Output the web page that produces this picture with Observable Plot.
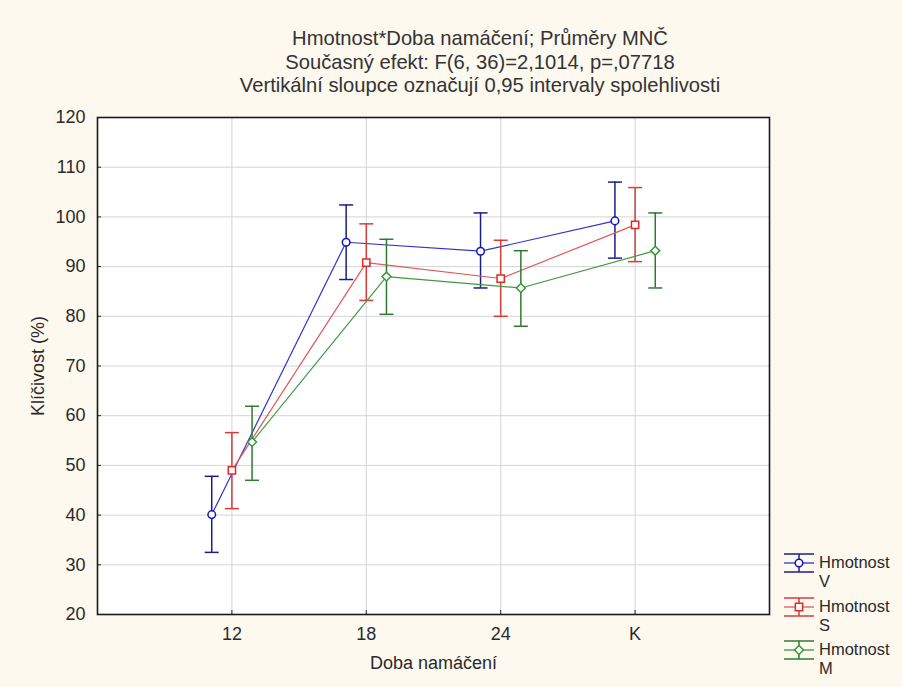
<!DOCTYPE html>
<html>
<head>
<meta charset="utf-8">
<script src="https://cdn.jsdelivr.net/npm/d3@7"></script>
<script src="https://cdn.jsdelivr.net/npm/@observablehq/plot@0.6"></script>
<style>
  html, body { margin: 0; padding: 0; background: #fdf9ef; }
  body { width: 902px; height: 687px; overflow: hidden; position: relative;
         font-family: "Liberation Sans", Arial, sans-serif; color: #2a2a2a; }
  #title { position: absolute; left: 0; top: 27px; width: 960px; text-align: center;
           font-size: 20.2px; line-height: 23.5px; color: #333; }
  #chart { position: absolute; left: 0; top: 0; }
  #legend { position: absolute; left: 783px; top: 553px; font-size: 16.5px; line-height: 19px; white-space: nowrap; }
  .item { display: flex; align-items: flex-start; height: 43.5px; }
  .item svg { flex: none; margin-right: 4px; margin-top: -1px; }
</style>
</head>
<body>
<div id="title">
  <div>Hmotnost*Doba namáčení; Průměry MNČ</div>
  <div>Současný efekt: F(6, 36)=2,1014, p=,07718</div>
  <div>Vertikální sloupce označují 0,95 intervaly spolehlivosti</div>
</div>
<div id="chart"></div>
<div id="legend"></div>
<script>
// ---- data ----
const categories = ["12", "18", "24", "K"];
const seriesNames = ["V", "S", "M"];
const seriesLabels = ["Hmotnost\nV", "Hmotnost\nS", "Hmotnost\nM"];
const meanV = [40.1, 94.9, 93.1, 99.2];
const lowV  = [32.5, 87.4, 85.7, 91.7];
const highV = [47.8, 102.4, 100.8, 107.0];
const meanS = [49.0, 90.8, 87.6, 98.4];
const lowS  = [41.3, 83.2, 80.0, 91.0];
const highS = [56.6, 98.6, 95.3, 105.9];
const meanM = [54.7, 88.0, 85.7, 93.2];
const lowM  = [47.0, 80.4, 78.0, 85.7];
const highM = [61.9, 95.5, 93.2, 100.8];
const yTicks = [20, 30, 40, 50, 60, 70, 80, 90, 100, 110, 120];

// ---- styling ----
const lineColors = ["#3434cc", "#e05858", "#3f9a3f"];
const barColors  = ["#1c1c8c", "#d63c3c", "#2f7a2f"];
const markColors = ["#1414c4", "#e02828", "#389638"];
const symbols = ["circle", "square", "diamond2"];
const radii = [3.8, 4.1, 4.0];
const dodge = [-0.15, 0, 0.15];

const means = [meanV, meanS, meanM];
const lows = [lowV, lowS, lowM];
const highs = [highV, highS, highM];

const rows = [];
seriesNames.forEach((s, si) => {
  categories.forEach((c, ci) => {
    rows.push({series: s, si, x: ci + 1 + dodge[si], mean: means[si][ci], low: lows[si][ci], high: highs[si][ci]});
  });
});

const capSymbol = {
  draw(ctx, size) { const r = Math.sqrt(size / Math.PI); ctx.moveTo(-r, 0); ctx.lineTo(r, 0); }
};

const marks = [
  Plot.frame({fill: "white", stroke: "none"}),
  Plot.gridY(yTicks, {stroke: "#d4d4d4", strokeOpacity: 1, strokeWidth: 1}),
  Plot.gridX([1, 2, 3, 4], {stroke: "#d4d4d4", strokeOpacity: 1, strokeWidth: 1}),
];
seriesNames.forEach((s, si) => {
  const d = rows.filter(r => r.series === s);
  marks.push(
    Plot.line(d, {x: "x", y: "mean", stroke: lineColors[si], strokeWidth: 1.2}),
    Plot.ruleX(d, {x: "x", y1: "low", y2: "high", stroke: barColors[si], strokeWidth: 1.5}),
    Plot.dot(d, {x: "x", y: "low", symbol: capSymbol, r: 7, stroke: barColors[si], strokeWidth: 1.5, fill: "none"}),
    Plot.dot(d, {x: "x", y: "high", symbol: capSymbol, r: 7, stroke: barColors[si], strokeWidth: 1.5, fill: "none"}),
    Plot.dot(d, {x: "x", y: "mean", symbol: symbols[si], r: radii[si], stroke: markColors[si], strokeWidth: 1.5, fill: "white"})
  );
});
marks.push(
  Plot.axisY(yTicks, {tickSize: 0, tickPadding: 12, label: "Klíčivost (%)", labelAnchor: "center", labelOffset: 66, labelArrow: "none"}),
  Plot.axisX([1, 2, 3, 4], {tickSize: 0, tickPadding: 13, tickFormat: d => categories[d - 1], label: "Doba namáčení", labelAnchor: "center", labelOffset: 54, labelArrow: "none"}),
  Plot.ruleY(yTicks, {x1: 0, x2: 0.03, stroke: "#222"}),
  Plot.ruleX([1, 2, 3, 4], {y1: 20, y2: 20.8, stroke: "#222"}),
  Plot.frame({stroke: "#1a1a1a", strokeWidth: 1.6})
);

const chart = Plot.plot({
  width: 902,
  height: 687,
  marginTop: 117,
  marginBottom: 73,
  marginLeft: 97,
  marginRight: 133,
  x: {type: "linear", domain: [0, 5]},
  y: {domain: [20, 120]},
  style: {background: "transparent", fontFamily: "'Liberation Sans', Arial, sans-serif", fontSize: "18px", color: "#2a2a2a", overflow: "visible"},
  marks
});
document.getElementById("chart").appendChild(chart);

// ---- legend ----
const legend = document.getElementById("legend");
seriesNames.forEach((s, si) => {
  const item = document.createElement("div");
  item.className = "item";
  const sym = d3.create("svg").attr("width", 32).attr("height", 22);
  const g = sym.append("g").attr("transform", "translate(16,11)");
  g.append("line").attr("x1", -15).attr("x2", 15).attr("y1", 0).attr("y2", 0).attr("stroke", lineColors[si]).attr("stroke-width", 1.3);
  g.append("line").attr("x1", -15).attr("x2", 15).attr("y1", -9).attr("y2", -9).attr("stroke", barColors[si]).attr("stroke-width", 1.5);
  g.append("line").attr("x1", -15).attr("x2", 15).attr("y1", 9).attr("y2", 9).attr("stroke", barColors[si]).attr("stroke-width", 1.5);
  g.append("line").attr("x1", 0).attr("x2", 0).attr("y1", -9).attr("y2", 9).attr("stroke", barColors[si]).attr("stroke-width", 1.5);
  const symType = [d3.symbolCircle, d3.symbolSquare, d3.symbolDiamond2][si];
  g.append("path").attr("d", d3.symbol(symType, Math.PI * radii[si] * radii[si])()).attr("fill", "white").attr("stroke", markColors[si]).attr("stroke-width", 1.5);
  item.appendChild(sym.node());
  const t = document.createElement("div");
  t.innerHTML = seriesLabels[si].replace("\n", "<br>");
  item.appendChild(t);
  legend.appendChild(item);
});
</script>
</body>
</html>
